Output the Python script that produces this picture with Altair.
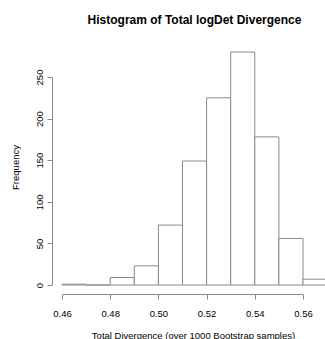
import altair as alt
import pandas as pd

bin_start = [0.46, 0.47, 0.48, 0.49, 0.50, 0.51, 0.52, 0.53, 0.54, 0.55, 0.56]
bin_end = [0.47, 0.48, 0.49, 0.50, 0.51, 0.52, 0.53, 0.54, 0.55, 0.56, 0.57]
counts = [1, 0, 9, 23, 72, 149, 225, 280, 178, 56, 7]
x_ticks = [0.46, 0.48, 0.50, 0.52, 0.54, 0.56]
y_ticks = [0, 50, 100, 150, 200, 250]

df = pd.DataFrame({"start": bin_start, "end": bin_end, "count": counts})

FONT = "Liberation Sans"
LINE = "#8a8a8a"

chart = (
    alt.Chart(df)
    .mark_rect(fill="white", stroke=LINE, strokeWidth=1)
    .encode(
        x=alt.X(
            "start:Q",
            scale=alt.Scale(domain=[0.46, 0.56], nice=False, zero=False),
            axis=alt.Axis(
                values=x_ticks,
                format=".2f",
                offset=9,
                grid=False,
                domainColor=LINE,
                tickColor=LINE,
                tickSize=5,
                labelFontSize=9.5,
                labelFont=FONT,
                labelColor="black",
                labelBaseline="middle",
                labelPadding=14,
                labelFlush=False,
                title="Total Divergence (over 1000 Bootstrap samples)",
                titleFont=FONT,
                titleFontSize=9.5,
                titleFontWeight="normal",
                titleColor="black",
                titleX=131,
                titleY=41,
                titleBaseline="middle",
            ),
        ),
        x2="end:Q",
        y=alt.Y(
            "count:Q",
            scale=alt.Scale(domain=[0, 250], nice=False),
            axis=alt.Axis(
                values=y_ticks,
                offset=10,
                grid=False,
                domainColor=LINE,
                tickColor=LINE,
                tickSize=5,
                labelAngle=270,
                labelAlign="center",
                labelBaseline="middle",
                labelPadding=8,
                labelFontSize=9.5,
                labelFont=FONT,
                labelColor="black",
                labelFlush=False,
                title="Frequency",
                titleFont=FONT,
                titleFontSize=9.5,
                titleFontWeight="normal",
                titleColor="black",
                titleX=-37,
                titleY=90,
                titleBaseline="middle",
            ),
        ),
        y2=alt.datum(0),
    )
    .properties(
        width=241,
        height=208,
        background="white",
        title=alt.TitleParams(
            "Histogram of Total logDet Divergence",
            font=FONT,
            fontSize=12,
            fontWeight="bold",
            color="black",
            anchor="middle",
            dx=12,
            offset=25,
        ),
        autosize=alt.AutoSizeParams(type="none"),
        padding={"left": 62, "top": 77, "right": 22, "bottom": 54},
    )
    .configure_view(strokeWidth=0, stroke=None)
)

chart.save("out.html", embed_options={"renderer": "svg", "actions": False})
